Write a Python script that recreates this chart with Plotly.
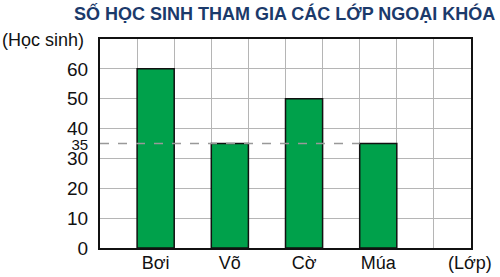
import plotly.graph_objects as go

categories = ["Bơi", "Võ", "Cờ", "Múa"]
students = [60, 35, 50, 35]
x_positions = [1.5, 3.5, 5.5, 7.5]
y_tick_values = [0, 10, 20, 30, 35, 40, 50, 60]
y_tick_labels = ["0", "10", "20", "30", "<span style='font-size:15px'>35</span>", "40", "50", "60"]
reference_value = 35
reference_index = 3

title_text = "SỐ HỌC SINH THAM GIA CÁC LỚP NGOẠI KHÓA"
y_title = "(Học sinh)"
x_title = "(Lớp)"

FONT = "Liberation Sans, Arial, sans-serif"

fig = go.Figure()

# dashed reference line from the axis to the bar with that value
fig.add_trace(go.Scatter(
    x=[0, x_positions[reference_index] - 0.5],
    y=[reference_value, reference_value],
    mode="lines",
    line=dict(color="#999999", width=1.5, dash="dash"),
    hoverinfo="skip",
    showlegend=False,
))

fig.add_trace(go.Bar(
    x=x_positions,
    y=students,
    width=1,
    marker=dict(color="#00A14B", line=dict(color="#111111", width=1.5)),
    showlegend=False,
))

fig.update_layout(
    width=500, height=277,
    margin=dict(l=100, r=29, t=39, b=29, autoexpand=False),
    paper_bgcolor="white",
    plot_bgcolor="white",
    font=dict(family=FONT, size=18, color="#111111"),
    xaxis=dict(
        range=[0, 10],
        tickvals=x_positions,
        ticktext=categories,
        showgrid=False,
        zeroline=False,
        automargin=False,
        showline=True, linecolor="#111111", linewidth=2, mirror=True,
        ticks="", tickfont=dict(size=18),
        ticklabelstandoff=-3,
        minor=dict(tick0=0, dtick=1, showgrid=True, gridcolor="#b5b5b5", gridwidth=1),
        fixedrange=True,
    ),
    yaxis=dict(
        range=[0, 70],
        tickvals=y_tick_values,
        ticktext=y_tick_labels,
        showgrid=False,
        zeroline=False,
        automargin=False,
        showline=True, linecolor="#111111", linewidth=2, mirror=True,
        ticks="", tickfont=dict(size=19),
        ticklabelstandoff=6,
        minor=dict(tick0=0, dtick=10, showgrid=True, gridcolor="#b5b5b5", gridwidth=1),
        fixedrange=True,
    ),
    annotations=[
        dict(text="<b>" + title_text + "</b>", xref="paper", yref="paper",
             x=(284 - 100) / 371, y=(248 - 13) / 209, xanchor="center", yanchor="middle",
             showarrow=False, font=dict(size=18, color="#1B3A6B", family=FONT)),
        dict(text=y_title, xref="paper", yref="paper",
             x=(0 - 100) / 371, y=(248 - 40) / 209, xanchor="left", yanchor="middle",
             showarrow=False, font=dict(size=18, color="#111111", family=FONT)),
        dict(text=x_title, xref="paper", yref="paper",
             x=(470 - 100) / 371, y=(248 - 263) / 209, xanchor="center", yanchor="middle",
             showarrow=False, font=dict(size=18, color="#111111", family=FONT)),
    ],
)

fig.write_html("out.html")
